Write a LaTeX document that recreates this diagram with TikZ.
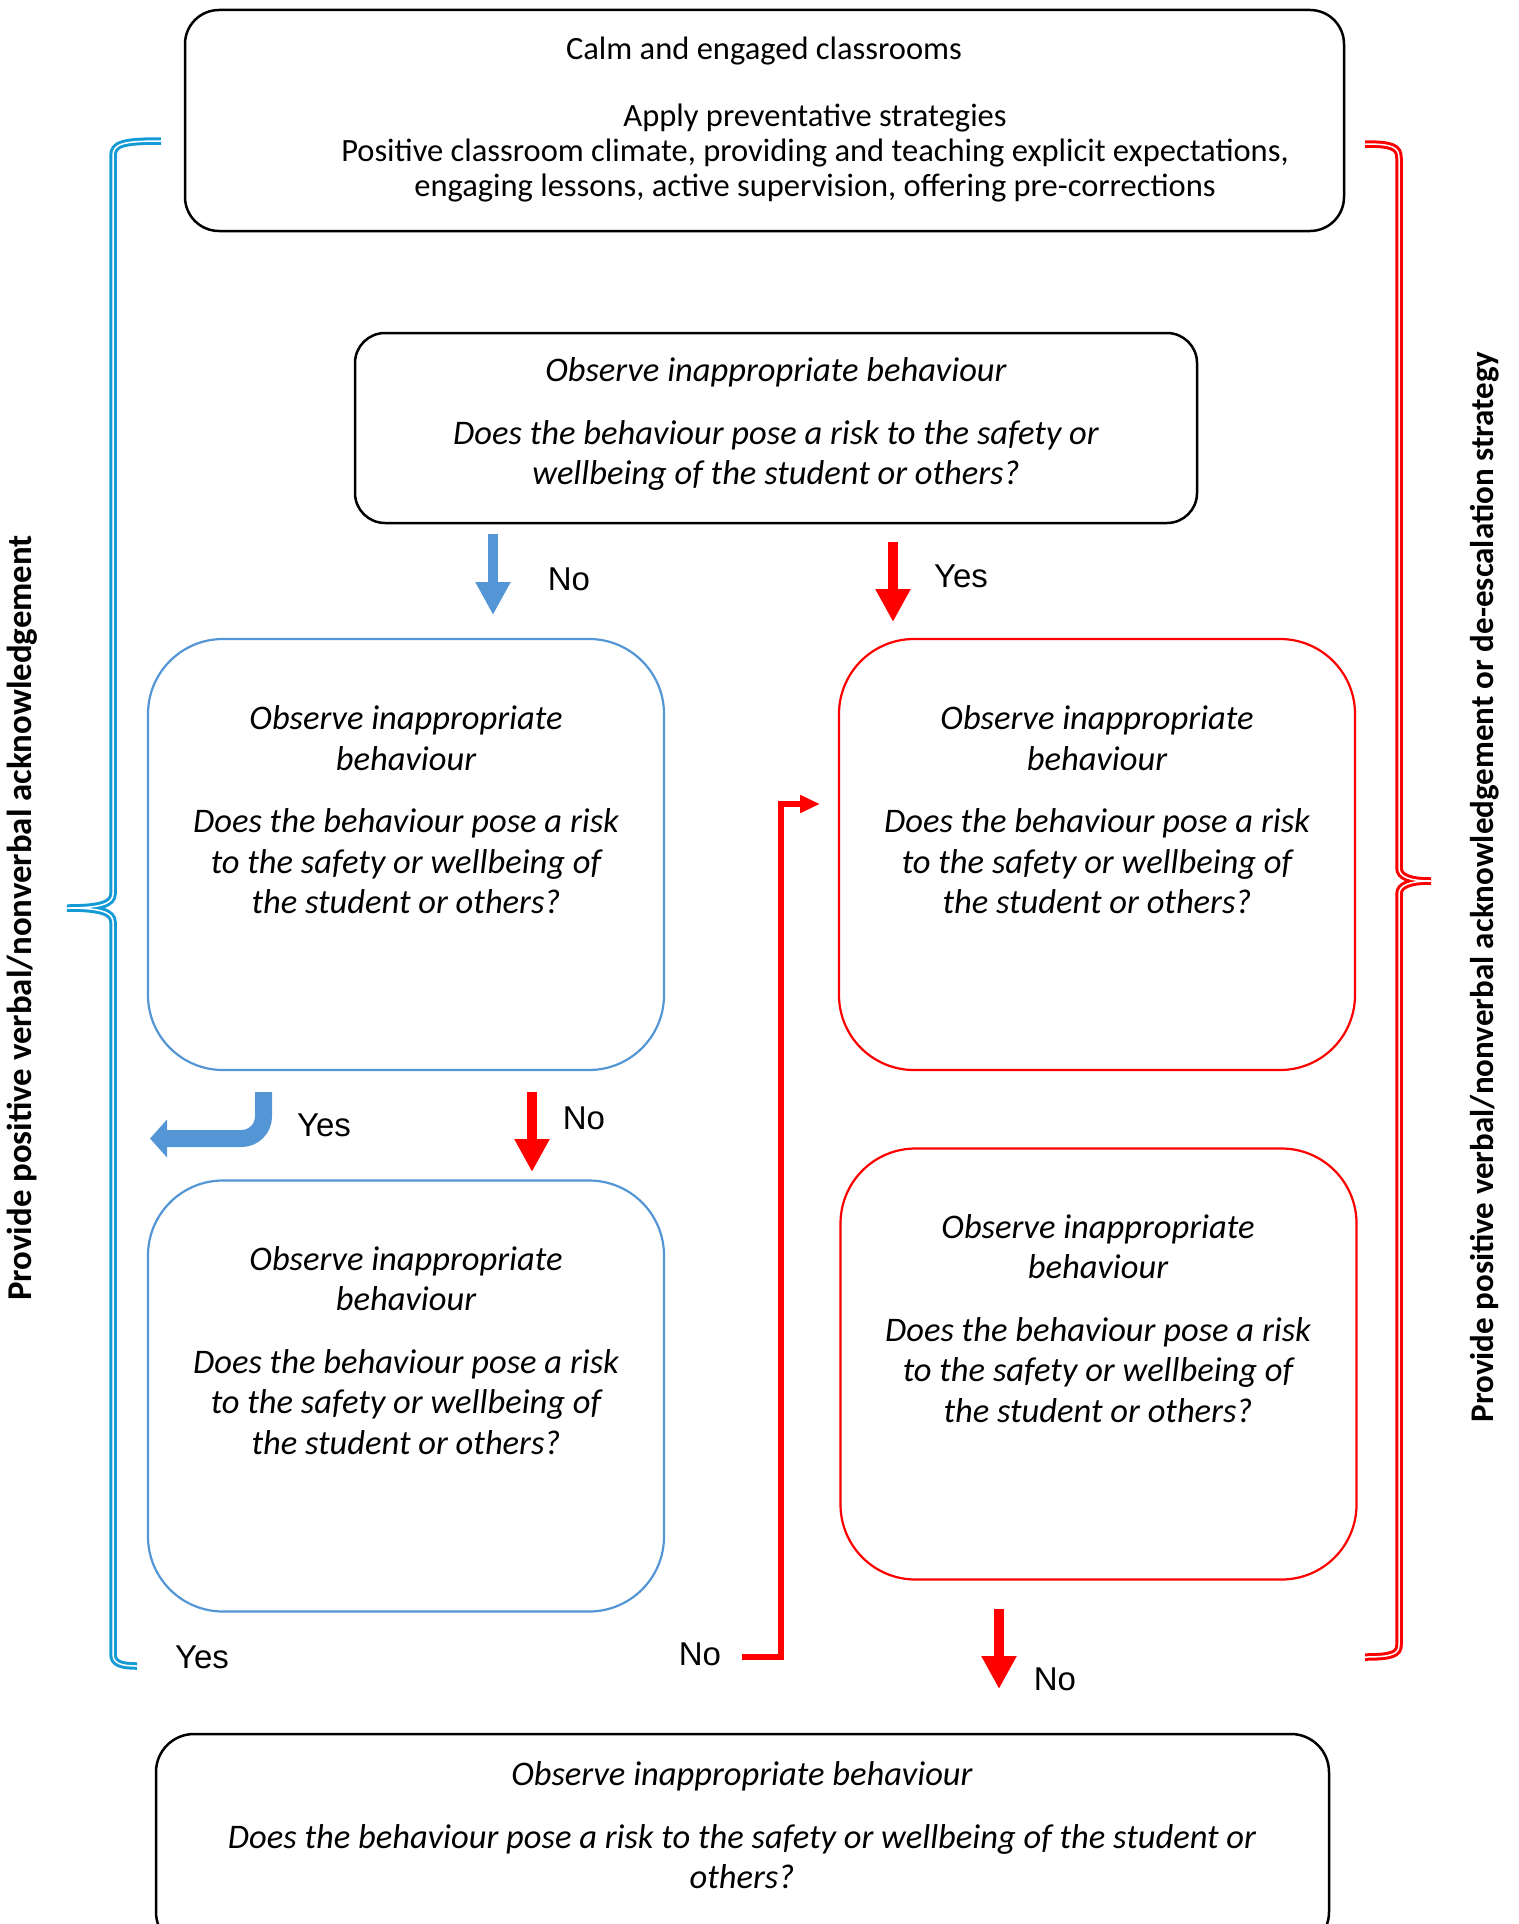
\documentclass[tikz,border=0pt]{standalone}
\usepackage{fontspec}
\setmainfont{Carlito}
\newfontfamily\labelfont{Liberation Sans}
\usetikzlibrary{arrows.meta,positioning}

\definecolor{boxblue}{RGB}{84,150,213}
\definecolor{braceblue}{RGB}{20,155,214}
\definecolor{alertred}{RGB}{255,0,0}

\tikzset{
  mainbox/.style={draw=black, line width=2.5pt, rounded corners=34pt, inner sep=0pt},
  bluebox/.style={draw=boxblue, line width=2.2pt, rounded corners=75pt,
    minimum width=516pt, minimum height=431pt, inner sep=0pt},
  redbox/.style={bluebox, draw=alertred},
  qtext/.style={font=\fontsize{34.5}{40.5}\selectfont\itshape, align=center, inner sep=0pt},
  toptext/.style={font=\fontsize{32.5}{35}\selectfont, align=center, inner sep=0pt},
  choice/.style={font=\labelfont\fontsize{33}{40}\selectfont, text height=23.5pt, text depth=0pt, inner sep=0pt},
  blockarrow/.style={line width=10pt, -{Triangle[length=33pt,width=33pt]}},
  brace/.style={line width=3pt, double=white, double distance=1.5pt},
  sidetext/.style={font=\fontsize{33}{36}\selectfont\bfseries, rotate=90, inner sep=0pt}
}

\begin{document}
\begin{tikzpicture}[x=1pt, y=-1pt]
  \clip (0,0) rectangle (1518,1924);

  % Top: preventative strategies
  \node[mainbox, minimum width=1159pt, minimum height=221pt] (calm) at (764.5,120.5) {};
  \node[toptext] (calmtitle) at (764,51) {Calm and engaged classrooms};
  \node[toptext] (strategies) at (815,153) {Apply preventative strategies\\
    Positive classroom climate, providing and teaching explicit expectations,\\
    engaging lessons, active supervision, offering pre-corrections};

  % First question
  \node[mainbox, rounded corners=30pt, minimum width=842pt, minimum height=190pt] (risk) at (776,428) {};
  \node[qtext] (risktext) at (776,424) {Observe inappropriate behaviour\\[22pt]
    Does the behaviour pose a risk to the safety or\\
    wellbeing of the student or others?};

  % Blue branch
  \node[bluebox] (blueA) at (406,854.5) {};
  \node[qtext] (blueAtext) at (406,810) {Observe inappropriate\\behaviour\\[22pt]
    Does the behaviour pose a risk\\to the safety or wellbeing of\\the student or others?};
  \node[bluebox] (blueB) at (406,1396) {};
  \node[qtext] (blueBtext) at (406,1350.5) {Observe inappropriate\\behaviour\\[22pt]
    Does the behaviour pose a risk\\to the safety or wellbeing of\\the student or others?};

  % Red branch
  \node[redbox] (redA) at (1097,854.5) {};
  \node[qtext] (redAtext) at (1097,810) {Observe inappropriate\\behaviour\\[22pt]
    Does the behaviour pose a risk\\to the safety or wellbeing of\\the student or others?};
  \node[redbox] (redB) at (1098.5,1364) {};
  \node[qtext] (redBtext) at (1098,1318.5) {Observe inappropriate\\behaviour\\[22pt]
    Does the behaviour pose a risk\\to the safety or wellbeing of\\the student or others?};

  % Bottom question
  \node[mainbox, rounded corners=38pt, minimum width=1173pt, minimum height=216pt] (last) at (742.5,1842) {};
  \node[qtext] (lasttext) at (742,1825.5) {Observe inappropriate behaviour\\[22pt]
    Does the behaviour pose a risk to the safety or wellbeing of the student or\\others?};

  % Arrow ends
  \coordinate (noTopS) at (493,534);
  \coordinate (noTopE) at (493,615);
  \coordinate (yesTopS) at (893,542);
  \coordinate (yesTopE) at (893,622);
  \coordinate (yesBendS) at (263.5,1092);
  \coordinate (yesBendE) at (150,1138.5);
  \coordinate (noMidS) at (532,1092);
  \coordinate (noMidE) at (532,1172);
  \coordinate (noLoopS) at (742,1657);
  \coordinate (noLoopC) at (780.5,804);
  \coordinate (noLoopE) at (820,804);
  \coordinate (noLowS) at (999,1609);
  \coordinate (noLowE) at (999,1689);

  % Arrows
  \draw[blockarrow, boxblue] (noTopS) -- (noTopE);
  \draw[blockarrow, alertred] (yesTopS) -- (yesTopE);
  \draw[boxblue, line width=17pt, rounded corners=22pt,
    -{Triangle[length=17pt,width=37pt]}] (yesBendS) |- (yesBendE);
  \draw[blockarrow, alertred] (noMidS) -- (noMidE);
  \draw[alertred, line width=6pt, line join=miter,
    -{Triangle[length=20pt,width=17pt]}] (noLoopS) -| (noLoopC) -- (noLoopE);
  \draw[blockarrow, alertred] (noLowS) -- (noLowE);

  % Labels
  \node[choice] (noTop) at (569,579) {No};
  \node[choice] (yesTop) at (961,576) {Yes};
  \node[choice] (yesBend) at (324,1125) {Yes};
  \node[choice] (noMid) at (584,1118) {No};
  \node[choice] (yesLow) at (202,1657) {Yes};
  \node[choice] (noLoop) at (700,1654) {No};
  \node[choice] (noLow) at (1055,1679) {No};

  % Braces
  \draw[brace, braceblue] (161,141) .. controls (122,141) and (113,144) .. (113,156)
    -- (113,894) .. controls (113,904) and (100,908) .. (67,908)
    .. controls (100,908) and (113,912) .. (113,922)
    -- (113,1654) .. controls (113,1663) and (120,1666) .. (137,1666);
  \draw[brace, alertred] (1365,144) .. controls (1392,144) and (1399,147) .. (1399,158)
    -- (1399,868) .. controls (1399,877) and (1410,881) .. (1431,881)
    .. controls (1410,881) and (1399,885) .. (1399,894)
    -- (1399,1645) .. controls (1399,1654) and (1392,1657) .. (1365,1657);

  % Side notes
  \node[sidetext, font=\fontsize{34.8}{36}\selectfont\bfseries] (leftnote) at (22,918) {Provide positive verbal/nonverbal acknowledgement};
  \node[sidetext] (rightnote) at (1485,887) {Provide positive verbal/nonverbal acknowledgement or de-escalation strategy};
\end{tikzpicture}
\end{document}
